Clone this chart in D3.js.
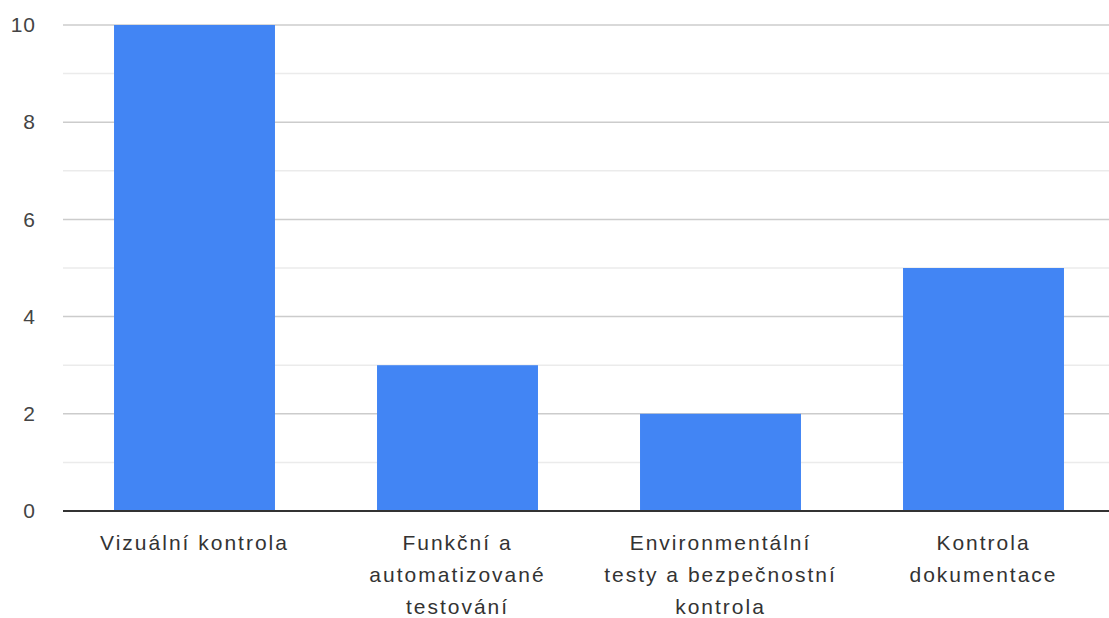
<!DOCTYPE html>
<html><head><meta charset="utf-8">
<script src="https://cdn.jsdelivr.net/npm/d3@7/dist/d3.min.js"></script>
<style>
body{margin:0;background:#fff;}
text{font-family:"Liberation Sans",Arial,sans-serif;}
</style></head>
<body><svg id="c" width="1109" height="618"></svg>
<script>
const categories = ["Vizuální kontrola","Funkční a automatizované testování","Environmentální testy a bezpečnostní kontrola","Kontrola dokumentace"];
const labelLines = [["Vizuální kontrola"],["Funkční a","automatizované","testování"],["Environmentální","testy a bezpečnostní","kontrola"],["Kontrola","dokumentace"]];
const values = [10,3,2,5];
const yTicks = [0,2,4,6,8,10];
const yMinor = [1,3,5,7,9];

(function(){
const svg = d3.select("#c");
const pLeft = 63, pRight = 1115, pTop = 25, pBottom = 511;
const x = d3.scaleBand().domain(categories).range([pLeft,pRight]).paddingInner(0.388).paddingOuter(0.194);
const y = d3.scaleLinear().domain([0,10]).range([pBottom,pTop]);

svg.append("g").selectAll("line").data(yMinor).join("line")
  .attr("x1",pLeft).attr("x2",1109).attr("y1",d=>y(d)).attr("y2",d=>y(d))
  .attr("stroke","#ebebeb").attr("stroke-width",1.5);
svg.append("g").selectAll("line").data(yTicks.filter(d=>d>0)).join("line")
  .attr("x1",pLeft).attr("x2",1109).attr("y1",d=>y(d)).attr("y2",d=>y(d))
  .attr("stroke","#cccccc").attr("stroke-width",1.5);

svg.append("g").selectAll("rect").data(values).join("rect")
  .attr("x",(d,i)=>x(categories[i])).attr("width",x.bandwidth())
  .attr("y",d=>y(d)).attr("height",d=>y(0)-y(d))
  .attr("fill","#4285f4");

svg.append("line").attr("x1",pLeft).attr("x2",1109).attr("y1",y(0)).attr("y2",y(0))
  .attr("stroke","#333").attr("stroke-width",2);

const ya = svg.append("g").attr("transform",`translate(${pLeft-27},0)`)
  .call(d3.axisLeft(y).tickValues(yTicks).tickSize(0).tickPadding(0).tickFormat(d3.format("d")));
ya.select(".domain").remove();
ya.selectAll("text").attr("font-size",21).attr("fill","#444").attr("letter-spacing","1px")
  .attr("font-family","'Liberation Sans',Arial,sans-serif");

const xl = svg.append("g");
categories.forEach((c,i)=>{
  const t = xl.append("text").attr("x",x(c)+x.bandwidth()/2).attr("y",550)
    .attr("text-anchor","middle").attr("font-size",21).attr("fill","#333").attr("letter-spacing","2px");
  labelLines[i].forEach((ln,j)=>{
    t.append("tspan").attr("x",x(c)+x.bandwidth()/2).attr("y",550+j*32).text(ln);
  });
});
})();
</script></body></html>
